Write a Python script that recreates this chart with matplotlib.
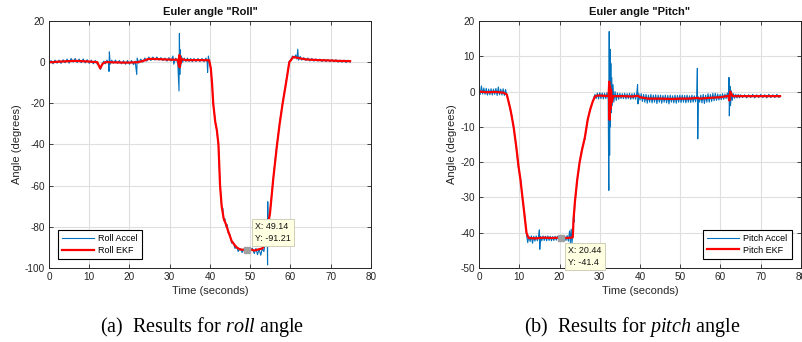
import matplotlib
matplotlib.use("Agg")
import matplotlib.pyplot as plt

plt.rcParams["font.family"] = ["Liberation Sans", "DejaVu Sans"]
plt.rcParams["axes.unicode_minus"] = False
plt.rcParams["mathtext.fontset"] = "custom"
plt.rcParams["mathtext.rm"] = "Liberation Serif"
plt.rcParams["mathtext.it"] = "Liberation Serif:italic"

# ---------------- Roll: accelerometer estimate ----------------
roll_accel_t = [
    0, 0.5, 1, 1.5, 2, 2.5, 3, 3.5, 4, 4.5,
    5, 5.5, 6, 6.5, 7, 7.5, 8, 8.5, 9, 9.5,
    10, 10.5, 11, 11.5, 12, 12.4, 12.8, 13.2, 13.6, 14,
    14.4, 14.8, 14.9, 15.0, 15.2, 15.6, 16, 16.5, 17, 17.5,
    18, 18.5, 19, 19.5, 20, 20.5, 21, 21.4, 21.8, 21.9,
    22.3, 22.8, 23.3, 23.8, 24.3, 24.8, 25.3, 25.8, 26.3, 26.8,
    27.3, 27.8, 28.3, 28.8, 29.3, 29.8, 30.3, 30.8, 31.0, 31.5,
    32.0, 32.3, 32.4, 32.5, 32.6, 32.7, 32.9, 33.2, 33.6, 34.0,
    34.4, 34.8, 35.2, 35.6, 36.0, 36.5, 37.0, 37.5, 38.0, 38.5,
    39.0, 39.3, 39.4, 39.6, 39.8, 40.2, 40.5, 40.8, 41.3, 41.7,
    42.1, 42.5, 42.9, 43.2, 43.4, 43.7, 44.0, 44.3, 44.5, 44.9,
    45.4, 45.8, 46.2, 46.6, 47.0, 47.5, 48.0, 48.5, 49.0, 49.5,
    50.0, 50.5, 51.0, 51.4, 51.8, 52.2, 52.6, 53.0, 53.4, 53.7,
    54.0, 54.2, 54.3, 54.35, 54.45, 54.9, 55.3, 55.7, 56.1, 56.6,
    57.0, 57.3, 57.7, 58.05, 58.5, 58.9, 59.3, 59.7, 60.1, 60.5,
    60.9, 61.3, 61.6, 61.8, 62.0, 62.4, 62.8, 63.3, 63.8, 64.3,
    64.8, 65.3, 65.8, 66.3, 66.8, 67.3, 67.8, 68.3, 68.8, 69.3,
    69.8, 70.3, 70.8, 71.3, 71.8, 72.3, 72.8, 73.3, 73.8, 74.3,
    74.8,
]
roll_accel_v = [
    -1.0, 0.8, -0.8, 1.0, -0.5, 1.0, -0.6, 1.2, -0.3, 1.5,
    -0.5, 1.8, 0.0, 1.8, -0.2, 1.5, -0.3, 1.6, -0.4, 1.2,
    -0.6, 1.0, -0.8, 0.8, -1.0, -1.5, -3.5, -1.0, 0.5, -0.8,
    1.0, -0.5, -4.5, 5.0, -1.0, 1.0, -0.5, 1.0, -0.6, 0.8,
    -0.8, 0.7, -1.0, 0.8, -1.0, 0.8, -1.2, 0.5, -6.0, 2.0,
    -0.5, 1.5, 0.0, 2.0, 0.5, 2.5, 0.8, 2.5, 1.0, 2.5,
    1.0, 2.2, 0.8, 2.0, 0.5, 2.2, 0.5, 3.0, -1.0, 2.0,
    -0.5, -14.0, 14.0, -6.0, 6.0, -2.0, 3.0, 0.0, 2.0, 0.3,
    2.0, 0.3, 1.8, 0.2, 1.8, 0.3, 1.8, 0.3, 1.8, 0.2,
    2.0, 0.0, -5.0, 3.0, 0.5, -3.5, -10.0, -20.5, -28.5, -33.5,
    -40.5, -59.5, -70.5, -71.0, -77.0, -76.0, -80.0, -79.0, -83.0, -83.5,
    -88.0, -87.5, -90.5, -89.5, -92.0, -90.5, -92.5, -90.5, -92.3, -90.5,
    -92.0, -90.3, -93.0, -90.5, -93.5, -90.8, -93.8, -90.5, -92.0, -87.5,
    -89.0, -78.0, -98.5, -67.8, -82.0, -73.0, -65.0, -56.5, -49.0, -40.5,
    -34.5, -29.5, -24.0, -19.5, -14.5, -9.5, -5.0, 0.5, 1.0, 3.0,
    2.0, 3.5, 1.5, 6.3, 1.0, 2.8, 1.0, 2.2, 0.8, 2.0,
    0.6, 1.8, 0.5, 1.6, 0.5, 1.5, 0.3, 1.4, 0.3, 1.3,
    0.2, 1.2, 0.2, 1.2, 0.0, 1.0, 0.0, 1.0, -0.2, 0.9,
    0.0,
]

# ---------------- Roll: EKF estimate ----------------
roll_ekf_t = [
    0, 1, 2, 3, 4, 5, 6, 7, 8, 9, 10, 11, 12,
    12.7, 13.3, 14, 15, 16, 17, 18, 19, 20, 21, 22, 23, 24,
    24.6, 25.5, 27, 29, 31, 32,
    32.3, 32.4, 32.5, 32.6, 32.7, 32.9,
    34, 36, 38, 39.8,
    40.2, 40.5, 40.8, 41.3, 41.7, 42.1, 42.5, 42.9, 43.4, 44.0, 44.5, 45.4, 46.6, 47.5, 48.5, 49.14,
    50, 51, 52, 53, 53.7, 54.3, 54.9, 55.7, 56.6, 57.3, 58.05, 58.9, 59.7, 60.7,
    61.5, 62.5, 64, 67, 70, 72, 74.8,
]
roll_ekf_v = [
    0, 0, 0.2, 0.3, 0.4, 0.5, 0.6, 0.6, 0.5, 0.4, 0.3, 0.1, 0,
    -3, -0.8, 0, 0, -0.1, -0.1, -0.2, -0.2, -0.2, -0.1, 0, 0.4, 1,
    1.5, 1.6, 1.5, 1.3, 1.2, 1.2,
    -2, 3.5, -2.5, 2.5, -0.5, 1.5,
    1, 1, 1, 0.9,
    -3, -10, -20, -29, -33, -40, -60, -70, -76, -79, -82, -87, -90, -91, -91.2, -91.21,
    -91, -91.5, -91, -90.5, -88, -80, -73.5, -57, -41, -30, -20, -10, 0, 2.5,
    2.2, 1.8, 1.3, 1, 0.8, 0.6, 0.5,
]

# ---------------- Pitch: accelerometer estimate ----------------
pitch_accel_t = [
    0, 0.3, 0.6, 0.9, 1.2, 1.5, 1.8, 2.1, 2.4, 2.7,
    3.0, 3.3, 3.6, 3.9, 4.2, 4.5, 4.8, 5.1, 5.4, 5.7,
    6.0, 6.3, 6.6, 6.9, 7.3, 7.8, 8.2, 8.6, 9.0, 9.3,
    9.8, 10.3, 10.8, 11.3, 11.8, 12.1, 12.4, 12.7, 13.0, 13.3,
    13.6, 13.9, 14.2, 14.5, 14.8, 15.0, 15.1, 15.3, 15.6, 15.9,
    16.2, 16.5, 16.8, 17.1, 17.4, 17.7, 18.0, 18.3, 18.6, 18.9,
    19.2, 19.5, 19.8, 20.1, 20.4, 20.7, 21.0, 21.3, 21.6, 21.9,
    22.2, 22.5, 22.7, 22.9, 23.1, 23.3, 23.45, 23.6, 23.85, 24.1,
    24.4, 24.7, 25.0, 25.6, 26.3, 27.0, 27.6, 28.2, 28.8, 29.1,
    29.4, 29.7, 30.0, 30.3, 30.6, 30.9, 31.2, 31.5, 31.8, 32.1,
    32.25, 32.35, 32.45, 32.55, 32.65, 32.75, 32.85, 32.95, 33.1, 33.3,
    33.5, 33.8, 34.1, 34.4, 34.7, 35.0, 35.3, 35.6, 35.9, 36.2,
    36.5, 36.8, 37.1, 37.4, 37.7, 38.0, 38.3, 38.6, 38.9, 39.2,
    39.4, 39.5, 39.7, 40.0, 40.3, 40.6, 40.9, 41.2, 41.5, 41.8,
    42.1, 42.4, 42.7, 43.0, 43.3, 43.6, 43.9, 44.2, 44.5, 44.8,
    45.1, 45.4, 45.7, 46.0, 46.3, 46.6, 46.9, 47.2, 47.5, 47.8,
    48.1, 48.4, 48.7, 49.0, 49.3, 49.6, 49.9, 50.2, 50.5, 50.8,
    51.1, 51.4, 51.7, 52.0, 52.3, 52.6, 52.9, 53.2, 53.5, 53.8,
    54.1, 54.25, 54.35, 54.5, 54.8, 55.1, 55.4, 55.7, 56.0, 56.3,
    56.6, 56.9, 57.2, 57.5, 57.8, 58.1, 58.4, 58.7, 59.0, 59.3,
    59.6, 59.9, 60.2, 60.5, 60.8, 61.1, 61.4, 61.7, 62.0, 62.1,
    62.2, 62.35, 62.5, 62.7, 62.9, 63.2, 63.5, 63.8, 64.1, 64.4,
    64.7, 65.0, 65.5, 66.0, 66.5, 67.0, 67.5, 68.0, 68.5, 69.0,
    69.5, 70.0, 70.5, 71.0, 71.5, 72.0, 72.5, 73.0, 73.5, 74.0,
    74.5, 74.8,
]
pitch_accel_v = [
    0.8, -0.8, 1.6, -0.7, 1.0, -0.8, 0.9, -1.0, 0.7, -0.9,
    0.8, -1.0, 0.7, -0.8, 0.9, -1.1, 1.3, -0.9, 0.7, -1.0,
    0.8, -1.1, 0.6, -1.0, -2.5, -5.5, -7.0, -10.5, -13.0, -16.5,
    -21.5, -24.5, -30.5, -34.5, -40.5, -42.8, -41.0, -42.5, -40.9, -43.0,
    -41.0, -42.4, -40.9, -42.3, -41.0, -39.2, -44.7, -41.0, -42.3, -40.9,
    -42.2, -41.0, -42.3, -40.9, -42.2, -41.0, -42.3, -41.1, -42.2, -41.0,
    -42.1, -41.0, -42.0, -41.0, -42.0, -41.0, -42.1, -41.0, -42.2, -40.8,
    -42.4, -39.5, -42.8, -39.0, -43.0, -40.5, -36.0, -37.0, -31.0, -29.0,
    -25.0, -23.0, -20.0, -16.0, -13.5, -8.0, -5.0, -3.0, -0.8, -2.0,
    -0.4, -2.1, -0.3, -2.0, -0.4, -2.1, -0.5, -2.0, -0.3, -2.2,
    -28.0, 17.0, -18.0, 12.0, -10.0, 8.0, -6.0, 4.0, -4.0, 2.0,
    -3.0, 0.0, -2.5, -0.4, -2.2, -0.5, -2.0, -0.6, -2.0, -0.5,
    -2.1, -0.6, -2.0, -0.5, -2.2, -0.6, -2.1, -0.5, -2.2, -0.4,
    2.0, -3.5, -0.6, -2.4, -0.6, -2.8, -0.8, -3.0, -0.8, -3.3,
    -1.0, -3.0, -0.8, -3.2, -1.0, -3.0, -0.9, -3.4, -1.0, -3.0,
    -1.0, -3.3, -1.1, -3.0, -1.0, -3.2, -1.1, -3.5, -1.0, -3.0,
    -1.2, -3.2, -1.0, -3.3, -1.1, -3.0, -1.0, -3.1, -1.0, -3.0,
    -1.1, -3.2, -1.0, -3.0, -1.2, -3.1, -1.0, -3.0, -1.2, -2.9,
    -1.0, 6.6, -13.4, -1.5, -3.0, -1.0, -3.2, -0.8, -3.4, -1.0,
    -3.0, -0.6, -3.0, -0.8, -2.8, -0.5, -2.6, -0.5, -2.5, -0.7,
    -2.4, -0.8, -2.3, -0.6, -2.2, -0.7, -2.0, -0.4, -2.5, 4.0,
    -6.9, 1.5, -4.0, 0.2, -2.5, -0.6, -1.9, -0.8, -1.8, -0.8,
    -1.8, -0.9, -1.7, -0.9, -1.8, -0.9, -1.7, -0.8, -1.8, -0.9,
    -1.7, -0.8, -1.7, -0.9, -1.8, -0.8, -1.7, -0.9, -1.7, -0.8,
    -1.7, -1.2,
]

# ---------------- Pitch: EKF estimate ----------------
pitch_ekf_t = [
    0, 2, 4, 6, 6.9, 7.8, 8.6, 9.3, 9.8, 10.3,
    10.8, 11.3, 11.8, 12.3, 14, 16, 18, 20.44, 22, 23.3,
    23.5, 23.85, 24.4, 25, 25.6, 26.3, 27, 27.6, 28.2, 28.8,
    29.5, 31, 32.2, 32.35, 32.45, 32.55, 32.65, 32.8, 33, 33.3,
    36, 38, 39.5, 40, 42, 45, 48, 50, 52, 54.3,
    55, 57, 60, 62, 62.2, 62.4, 63, 66, 70, 74.8,
]
pitch_ekf_v = [
    0, -0.2, -0.1, -0.3, -0.8, -5, -10, -16, -21, -25,
    -30, -35, -40, -41.5, -41.6, -41.4, -41.5, -41.4, -41.5, -41.3,
    -36, -31, -25, -20, -16.5, -13, -8, -5.2, -3, -1.4,
    -1.1, -1.2, -1.3, 2.8, -8, 1.5, -5, 0.5, -3, -1.3,
    -1.3, -1.4, -1.2, -1.6, -2, -2, -2.1, -2, -2, -1.8,
    -2, -1.8, -1.6, -1.2, -2.5, 0, -1.3, -1.3, -1.3, -1.3,
]

x_ticks = [0, 10, 20, 30, 40, 50, 60, 70, 80]
roll_y_ticks = [-100, -80, -60, -40, -20, 0, 20]
pitch_y_ticks = [-50, -40, -30, -20, -10, 0, 10, 20]

roll_tip = (49.14, -91.21)
pitch_tip = (20.44, -41.4)

BLUE = "#0072BD"
RED = "#FF0000"
AXC = "#262626"

fig = plt.figure(figsize=(8.03, 3.42), dpi=100)
ax_roll = fig.add_axes([49 / 803, 1 - 268 / 342, 322 / 803, 247 / 342])
ax_pitch = fig.add_axes([479 / 803, 1 - 268 / 342, 322 / 803, 247 / 342])


def style_axes(ax, ylim, yticks, title):
    ax.set_xlim(0, 80)
    ax.set_ylim(*ylim)
    ax.set_xticks(x_ticks)
    ax.set_yticks(yticks)
    ax.grid(True, color="#DFDFDF", linewidth=0.8)
    ax.set_axisbelow(True)
    ax.tick_params(direction="in", length=3, width=0.6, top=True, right=True,
                   labelsize=7.2, colors=AXC, pad=3)
    for s in ax.spines.values():
        s.set_color(AXC)
        s.set_linewidth(0.7)
    ax.set_title(title, fontsize=8, fontweight="bold", color="#111111", pad=4)
    ax.set_xlabel("Time (seconds)", fontsize=8, color=AXC, labelpad=3)
    ax.set_ylabel("Angle (degrees)", fontsize=8, color=AXC, labelpad=2)


def datatip(ax, xy, offset, va):
    x, y = xy
    ax.plot([x], [y], marker="s", ms=5, color="#A0A0A0", zorder=5)
    ax.annotate(f"X: {x}\nY: {y}", xy=(x, y), xytext=offset,
                textcoords="offset pixels", ha="left", va=va,
                fontsize=6.4, linespacing=1.45, color="#111111",
                bbox=dict(boxstyle="square,pad=0.35", fc="#FFFFE1",
                          ec="#CFCFB8", lw=0.7),
                zorder=6, annotation_clip=False)


# Roll panel
ax_roll.plot(roll_accel_t, roll_accel_v, color=BLUE, lw=0.8, label="Roll Accel")
ax_roll.plot(roll_ekf_t, roll_ekf_v, color=RED, lw=1.6, label="Roll EKF")
style_axes(ax_roll, (-100, 20), roll_y_ticks, 'Euler angle "Roll"')
leg = ax_roll.legend(loc="lower left", bbox_to_anchor=(0.028, 0.036),
                     fontsize=6.5, fancybox=False, edgecolor="black",
                     framealpha=1, handlelength=3.5, borderpad=0.45,
                     labelspacing=0.3, handletextpad=0.5, borderaxespad=0)
leg.get_frame().set_linewidth(0.8)
datatip(ax_roll, roll_tip, (8, 7), "bottom")

# Pitch panel
ax_pitch.plot(pitch_accel_t, pitch_accel_v, color=BLUE, lw=0.8, label="Pitch Accel")
ax_pitch.plot(pitch_ekf_t, pitch_ekf_v, color=RED, lw=1.6, label="Pitch EKF")
style_axes(ax_pitch, (-50, 20), pitch_y_ticks, 'Euler angle "Pitch"')
leg = ax_pitch.legend(loc="lower right", bbox_to_anchor=(0.971, 0.038),
                      fontsize=6.5, fancybox=False, edgecolor="black",
                      framealpha=1, handlelength=3.5, borderpad=0.45,
                      labelspacing=0.3, handletextpad=0.5, borderaxespad=0)
leg.get_frame().set_linewidth(0.8)
datatip(ax_pitch, pitch_tip, (7, -8), "top")

# Sub-figure captions
fig.text(202 / 803, 1 - 327 / 342, r"(a)  Results for $\mathit{roll}$ angle",
         ha="center", va="center", fontsize=14.5, family="Liberation Serif")
fig.text(632 / 803, 1 - 327 / 342, r"(b)  Results for $\mathit{pitch}$ angle",
         ha="center", va="center", fontsize=14.5, family="Liberation Serif")

fig.savefig("out.png", dpi=100)
